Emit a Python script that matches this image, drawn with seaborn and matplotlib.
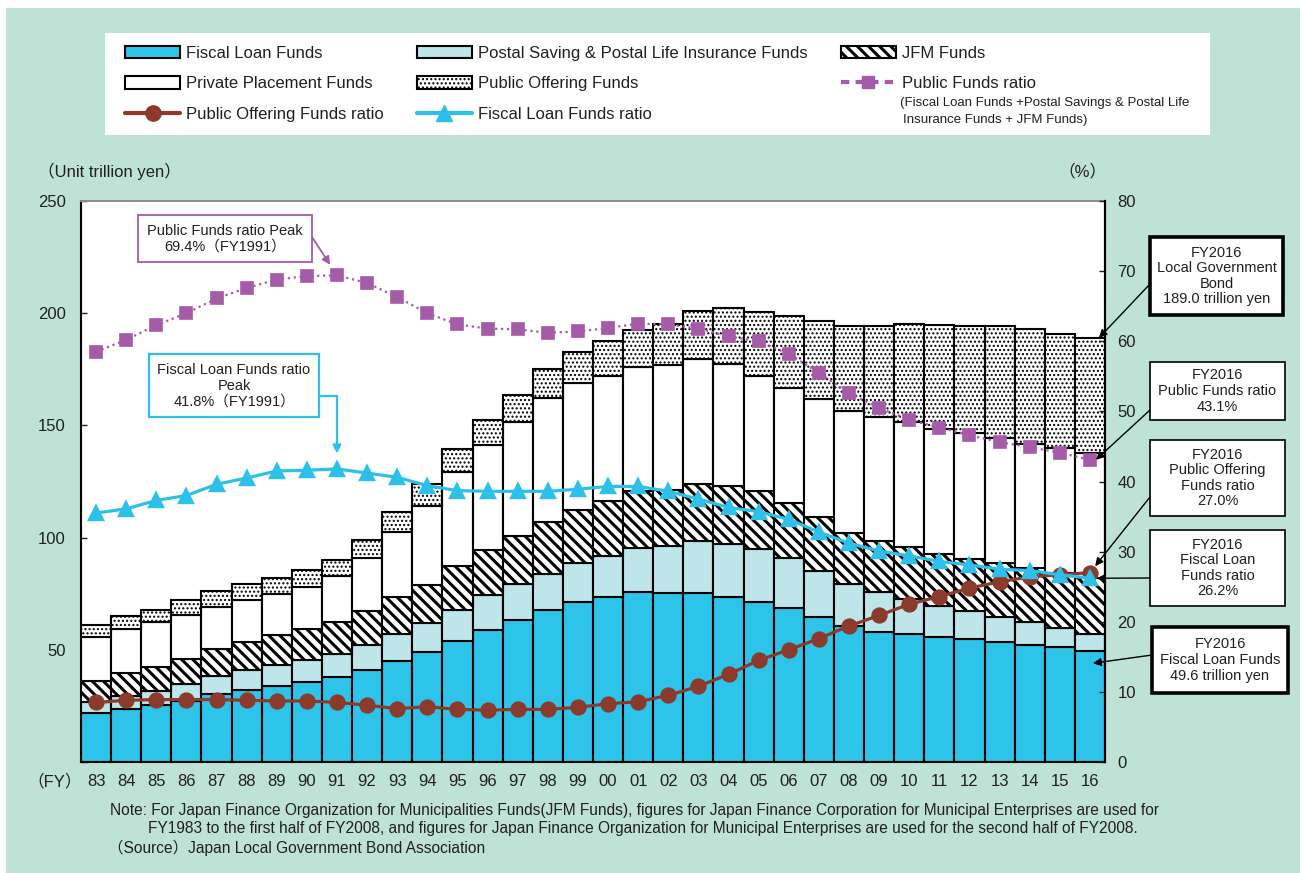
import matplotlib.pyplot as plt
import numpy as np
import seaborn as sns
from matplotlib.lines import Line2D
from matplotlib.patches import Patch, Rectangle

YEARS = ["83", "84", "85", "86", "87", "88", "89", "90", "91", "92", "93", "94",
         "95", "96", "97", "98", "99", "00", "01", "02", "03", "04", "05", "06",
         "07", "08", "09", "10", "11", "12", "13", "14", "15", "16"]

# trillion yen
FISCAL = [21.9, 23.5, 25.2, 27.3, 30.1, 32.1, 33.7, 35.5, 37.8, 40.8, 44.9, 49.0,
          53.9, 58.9, 63.3, 67.6, 71.2, 73.7, 75.7, 75.3, 75.3, 73.7, 71.5, 68.7,
          64.6, 60.5, 57.9, 56.9, 55.9, 54.6, 53.6, 52.3, 51.2, 49.6]
POSTAL = [4.9, 5.8, 6.5, 7.4, 8.1, 8.7, 9.6, 9.9, 10.4, 11.2, 12.3, 12.8,
          14.0, 15.3, 15.8, 16.4, 17.3, 18.1, 19.7, 21.1, 23.1, 23.3, 23.6, 22.3,
          20.6, 18.9, 17.8, 15.8, 13.8, 12.5, 11.0, 10.2, 8.5, 7.6]
JFM = [9.1, 10.2, 10.7, 11.0, 12.0, 12.8, 13.1, 13.8, 14.3, 15.4, 16.5, 17.1,
       19.3, 20.4, 21.7, 23.1, 23.8, 24.3, 25.2, 25.0, 25.4, 26.0, 25.5, 24.6,
       23.8, 22.6, 22.7, 22.9, 23.2, 23.5, 23.9, 24.0, 24.7, 24.7]
PRIVATE = [20.0, 19.9, 19.8, 19.8, 19.0, 18.8, 18.6, 18.9, 20.2, 23.6, 28.8, 35.1,
           41.9, 46.8, 50.5, 54.9, 56.4, 55.9, 55.4, 55.6, 55.6, 54.3, 51.3, 51.0,
           52.7, 54.4, 55.4, 55.7, 55.6, 55.8, 55.9, 55.4, 55.4, 55.9]
PUBLIC_OFFERING = [5.0, 5.7, 5.7, 6.5, 6.9, 6.7, 6.9, 7.4, 7.4, 8.0, 8.7, 9.8,
                   10.4, 11.2, 12.3, 13.0, 14.2, 15.5, 16.6, 18.4, 21.7, 25.0, 28.8, 32.1,
                   34.8, 37.7, 40.4, 44.1, 46.1, 48.0, 49.7, 50.9, 51.0, 51.2]

# percent, right axis
PUBLIC_FUNDS_RATIO = [58.5, 60.2, 62.3, 64.0, 66.1, 67.6, 68.8, 69.3, 69.4, 68.3, 66.3, 64.0,
                      62.4, 61.8, 61.7, 61.2, 61.4, 61.9, 62.5, 62.4, 61.8, 60.7, 60.0, 58.2,
                      55.5, 52.6, 50.5, 48.8, 47.7, 46.6, 45.6, 44.9, 44.1, 43.1]
FISCAL_RATIO = [35.5, 36.1, 37.3, 38.0, 39.6, 40.5, 41.5, 41.6, 41.8, 41.2, 40.6, 39.4,
                38.7, 38.6, 38.6, 38.6, 38.9, 39.3, 39.3, 38.6, 37.5, 36.3, 35.7, 34.6,
                32.8, 31.2, 30.1, 29.4, 28.6, 28.1, 27.5, 27.3, 26.7, 26.2]
PUBLIC_OFFERING_RATIO = [8.5, 8.8, 8.9, 8.9, 8.9, 8.8, 8.7, 8.7, 8.5, 8.1, 7.6, 7.9,
                         7.5, 7.4, 7.5, 7.5, 7.8, 8.3, 8.6, 9.5, 10.8, 12.5, 14.5, 16.0,
                         17.6, 19.4, 20.9, 22.5, 23.6, 24.8, 25.7, 26.4, 26.7, 27.0]

LEFT_TICKS = [0, 50, 100, 150, 200, 250]
LEFT_TICK_LABELS = ["", "50", "100", "150", "200", "250"]
RIGHT_TICKS = [0, 10, 20, 30, 40, 50, 60, 70, 80]

MINT = "#BEE2D6"
FISCAL_COLOR = "#2EC4EA"
POSTAL_COLOR = "#BEE5EA"
PURPLE = "#A65BA8"
BROWN = "#8C3A2C"
CYAN = "#2DC0EA"
TEXT = "#231F20"

W, H = 1303, 873


def fx(px):
    return px / W


def fy(py):
    return 1 - py / H


sns.set_theme(style="white")
plt.rcParams["font.family"] = ["Liberation Sans", "Noto Sans CJK JP"]
plt.rcParams["text.color"] = TEXT
plt.rcParams["xtick.color"] = TEXT
plt.rcParams["ytick.color"] = TEXT

fig = plt.figure(figsize=(W / 100, H / 100), dpi=100, facecolor="white")
fig.patches.append(Rectangle((fx(6), 0), fx(1300) - fx(6), fy(8), transform=fig.transFigure,
                             facecolor=MINT, edgecolor="none", zorder=-10))
fig.patches.append(Rectangle((fx(105), fy(135)), fx(1210) - fx(105), fy(33) - fy(135),
                             transform=fig.transFigure, facecolor="white", edgecolor="none", zorder=-5))

ax = fig.add_axes([fx(81), fy(762), fx(1105) - fx(81), fy(201) - fy(762)])
ax.set_facecolor("white")

layers = [
    (FISCAL, FISCAL_COLOR, None, 0),
    (POSTAL, POSTAL_COLOR, None, 0),
    (JFM, "white", "\\\\\\", 2.2),
    (PRIVATE, "white", None, 0),
    (PUBLIC_OFFERING, "white", "....", 1.0),
]
bottom = np.zeros(len(YEARS))
for values, color, hatch, hatch_lw in layers:
    n_before = len(ax.patches)
    sns.barplot(x=YEARS, y=values, bottom=bottom, color=color, saturation=1, width=1.0,
                edgecolor="black", linewidth=1.5, hatch=hatch, errorbar=None, ax=ax)
    if hatch:
        for bar in ax.patches[n_before:]:
            bar.set_hatch_linewidth(hatch_lw)
    bottom = bottom + np.array(values)

ax.set_xlim(-0.5, len(YEARS) - 0.5)
ax.set_ylim(0, 250)
ax.set_yticks(LEFT_TICKS, labels=LEFT_TICK_LABELS)
ax.tick_params(axis="y", direction="in", length=4, width=1, labelsize=12, pad=11, left=True)
ax.tick_params(axis="x", length=0, labelsize=12, pad=9)
for side in ["left", "bottom", "right"]:
    ax.spines[side].set_color("black")
    ax.spines[side].set_linewidth(1.5)
ax.spines["top"].set_color("#8A8A8A")
ax.spines["top"].set_linewidth(1.4)

ax2 = ax.twinx()
sns.pointplot(x=YEARS, y=PUBLIC_OFFERING_RATIO, ax=ax2, color=BROWN, markers="o",
              linestyles="-", linewidth=2.3, markersize=10, errorbar=None)
sns.pointplot(x=YEARS, y=FISCAL_RATIO, ax=ax2, color=CYAN, markers="^",
              linestyles="-", linewidth=2.3, markersize=10, errorbar=None)
sns.pointplot(x=YEARS, y=PUBLIC_FUNDS_RATIO, ax=ax2, color=PURPLE, markers="s",
              linestyles=":", linewidth=1.6, markersize=8, errorbar=None)
ax2.set_xlim(-0.5, len(YEARS) - 0.5)
ax2.set_ylim(0, 80)
ax2.set_yticks(RIGHT_TICKS)
ax2.set_ylabel("")
ax2.tick_params(axis="y", direction="in", length=4, width=1, labelsize=12, pad=9, right=True)
for side in ["left", "bottom", "top"]:
    ax2.spines[side].set_visible(False)
ax2.spines["right"].set_color("black")
ax2.spines["right"].set_linewidth(1.5)

# axis captions
fig.text(fx(38), fy(171), "（Unit trillion yen）", fontsize=12, ha="left", va="center")
fig.text(fx(1106), fy(171), "（%）", fontsize=12, ha="right", va="center")
fig.text(fx(27), fy(781), "（FY）", fontsize=12, ha="left", va="center")

# legend
handles = [
    Patch(facecolor=FISCAL_COLOR, edgecolor="black", linewidth=1.5),
    Patch(facecolor="white", edgecolor="black", linewidth=1.5),
    Line2D([], [], color=BROWN, lw=3, marker="o", markersize=11),
    Patch(facecolor=POSTAL_COLOR, edgecolor="black", linewidth=1.5),
    Patch(facecolor="white", edgecolor="black", linewidth=1.5, hatch="...."),
    Line2D([], [], color=CYAN, lw=3, marker="^", markersize=11),
    Patch(facecolor="white", edgecolor="black", linewidth=1.5, hatch="\\\\\\"),
    Line2D([], [], color=PURPLE, lw=3, ls=(0, (2, 1.5)), marker="s", markersize=9),
]
labels = [
    "Fiscal Loan Funds", "Private Placement Funds", "Public Offering Funds ratio",
    "Postal Saving & Postal Life Insurance Funds", "Public Offering Funds",
    "Fiscal Loan Funds ratio", "JFM Funds", "Public Funds ratio",
]
legend = fig.legend(handles, labels, loc="upper left", bbox_to_anchor=(fx(125), fy(46)), ncol=3,
                    frameon=False, fontsize=12, handlelength=3.3, handleheight=0.75,
                    handletextpad=0.35, columnspacing=2.0, labelspacing=0.92,
                    borderpad=0, borderaxespad=0)
for patch in legend.get_patches():
    if patch.get_hatch():
        patch.set_hatch_linewidth(2.2 if "\\" in patch.get_hatch() else 1.0)
fig.text(fx(900), fy(103), "(Fiscal Loan Funds +Postal Savings & Postal Life", fontsize=9.5,
         ha="left", va="center")
fig.text(fx(903), fy(120), "Insurance Funds + JFM Funds)", fontsize=9.5, ha="left", va="center")


def text_box(x0, y0, x1, y1, text, edge, lw):
    fig.patches.append(Rectangle((fx(x0), fy(y1)), fx(x1) - fx(x0), fy(y0) - fy(y1),
                                 transform=fig.transFigure, facecolor="white",
                                 edgecolor=edge, linewidth=lw, zorder=5))
    fig.text(fx((x0 + x1) / 2), fy((y0 + y1) / 2), text, fontsize=10.5, ha="center",
             va="center", linespacing=1.15, zorder=6)


def arrow(start, xy, coords, color="black", lw=1.0, shrink=0, style="arc3"):
    ax2.annotate("", xy=xy, xycoords=coords, xytext=(fx(start[0]), fy(start[1])),
                 textcoords="figure fraction", annotation_clip=False,
                 arrowprops=dict(arrowstyle="-|>", color=color, lw=lw, shrinkA=0,
                                 shrinkB=shrink, mutation_scale=12,
                                 connectionstyle=style))


# peak call-outs
text_box(138, 215, 312, 262, "Public Funds ratio Peak\n69.4%（FY1991）", PURPLE, 1.3)
arrow((312, 237), (8, 69.4), "data", color=PURPLE, lw=1.3, shrink=9)
text_box(149, 354, 319, 417, "Fiscal Loan Funds ratio\nPeak\n41.8%（FY1991）", CYAN, 1.6)
arrow((319, 396), (8, 41.8), "data", color=CYAN, lw=1.6, shrink=11,
      style="angle,angleA=0,angleB=90,rad=0")

# FY2016 call-outs
text_box(1150, 237, 1283, 315, "FY2016\nLocal Government\nBond\n189.0 trillion yen", "black", 2.6)
arrow((1150, 284), (33.3, 189.0), ax.transData)
text_box(1150, 362, 1285, 420, "FY2016\nPublic Funds ratio\n43.1%", "black", 1.2)
arrow((1150, 410), (33.2, 43.1), "data")
text_box(1150, 440, 1285, 516, "FY2016\nPublic Offering\nFunds ratio\n27.0%", "black", 1.2)
arrow((1150, 497), (33, 27.0), "data", shrink=6)
text_box(1150, 530, 1285, 606, "FY2016\nFiscal Loan\nFunds ratio\n26.2%", "black", 1.2)
arrow((1150, 578), (33, 26.2), "data", shrink=5)
text_box(1152, 627, 1288, 693, "FY2016\nFiscal Loan Funds\n49.6 trillion yen", "black", 2.6)
arrow((1152, 655), (33.1, 44.0), ax.transData)

# footnote
fig.text(fx(110), fy(810),
         "Note: For Japan Finance Organization for Municipalities Funds(JFM Funds), figures for "
         "Japan Finance Corporation for Municipal Enterprises are used for",
         fontsize=11.2, ha="left", va="center")
fig.text(fx(148), fy(829),
         "FY1983 to the first half of FY2008, and figures for Japan Finance Organization for "
         "Municipal Enterprises are used for the second half of FY2008.",
         fontsize=11.2, ha="left", va="center")
fig.text(fx(108), fy(848), "（Source）Japan Local Government Bond Association",
         fontsize=11.2, ha="left", va="center")

fig.savefig("out.png", dpi=100, facecolor="white")
